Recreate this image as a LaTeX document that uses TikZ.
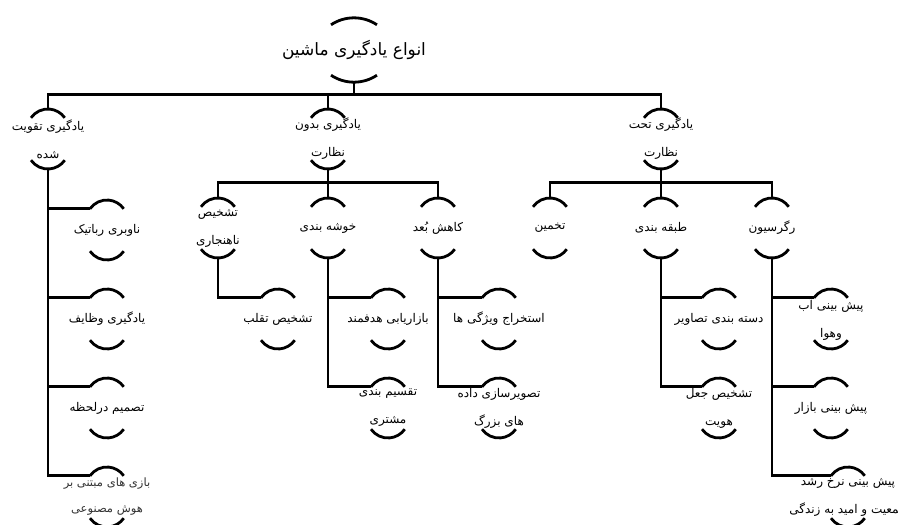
\documentclass[tikz,border=0pt]{standalone}
\usepackage{fontspec}
\newfontfamily\arabicfont[Script=Arabic]{DejaVu Sans}
\TeXXeTstate=1
\usepackage{tikz}
\usetikzlibrary{positioning}
\newcommand{\fatext}[1]{\beginR#1\endR}

\tikzset{
  link/.style = {line width=2.8pt},
  inlet/.style = {shift={(-17pt,-10pt)}},
  arcbox/.style = {minimum height=62pt, inner sep=0pt, align=center,
    font=\arabicfont\fontsize{12}{28}\selectfont,
    append after command={\pgfextra{
      \draw[link] ([shift={(-17pt,-10pt)}]\tikzlastnode.north) arc[start angle=145, end angle=35, radius=20.6pt];
      \draw[link] ([shift={(-17pt,10pt)}]\tikzlastnode.south) arc[start angle=215, end angle=325, radius=20.6pt];}}},
  rootbox/.style = {minimum height=64pt, inner sep=0pt,
    font=\arabicfont\fontsize{17}{24}\selectfont,
    append after command={\pgfextra{
      \draw[link] ([shift={(-23pt,-7pt)}]\tikzlastnode.north) arc[start angle=123.8, end angle=56.2, radius=41.3pt];
      \draw[link] ([shift={(-23pt,7pt)}]\tikzlastnode.south) arc[start angle=236.2, end angle=303.8, radius=41.3pt];}}}
}

\begin{document}
\begin{tikzpicture}[x=1pt, y=-1pt, node distance=89pt]
  \useasboundingbox (0,0) rectangle (898,525);

  % root and the three kinds of learning
  \node[rootbox] (root) at (354,50) {\fatext{انواع یادگیری ماشین}};
  \node[arcbox] (rein) at (48,139) {\fatext{یادگیری تقویت}\\\fatext{شده}};
  \node[arcbox] (unsup) at (328,139) {\fatext{یادگیری بدون}\\\fatext{نظارت}};
  \node[arcbox] (sup) at (661,139) {\fatext{یادگیری تحت}\\\fatext{نظارت}};
  \draw[link] (rein.north) -- ++(0,13pt) coordinate (bus) -| (sup.north);
  \draw[link] (root.south) -- (root.south |- bus);
  \draw[link] (unsup.north) -- (unsup.north |- bus);

  % reinforcement
  \node[arcbox] (robot) at (107,230) {\fatext{ناوبری رباتیک}};
  \node[arcbox] (task) [below of=robot] {\fatext{یادگیری وظایف}};
  \node[arcbox] (decide) [below of=task] {\fatext{تصمیم درلحظه}};
  \node[arcbox, font=\arabicfont\fontsize{11.5}{26}\selectfont, text=black!80] (game) [below of=decide] {\fatext{بازی های مبتنی بر}\\\fatext{هوش مصنوعی}};
  \draw[link] (rein.south) |- ([inlet]robot.north);
  \draw[link] (rein.south) |- ([inlet]task.north);
  \draw[link] (rein.south) |- ([inlet]decide.north);
  \draw[link] (rein.south) |- ([inlet]game.north);

  % unsupervised
  \node[arcbox] (clus) [below of=unsup] {\fatext{خوشه بندی}};
  \node[arcbox] (anom) at (218,228) {\fatext{تشخیص}\\\fatext{ناهنجاری}};
  \node[arcbox] (dim) at (438,228) {\fatext{کاهش بُعد}};
  \draw[link] (unsup.south) -- (clus.north);
  \draw[link] (anom.north) -- ++(0,14pt) -| (dim.north);

  \node[arcbox] (fraud) at (278,319) {\fatext{تشخیص تقلب}};
  \node[arcbox] (market) at (388,319) {\fatext{بازاریابی هدفمند}};
  \node[arcbox] (segment) [below of=market] {\fatext{تقسیم بندی}\\\fatext{مشتری}};
  \node[arcbox] (feature) at (499,319) {\fatext{استخراج ویژگی ها}};
  \node[arcbox] (bigdata) [below of=feature] {\fatext{تصویرسازی داده}\\\fatext{های بزرگ}};
  \draw[link] (anom.south) |- ([inlet]fraud.north);
  \draw[link] (clus.south) |- ([inlet]market.north);
  \draw[link] (clus.south) |- ([inlet]segment.north);
  \draw[link] (dim.south) |- ([inlet]feature.north);
  \draw[link] (dim.south) |- ([inlet]bigdata.north);

  % supervised
  \node[arcbox] (cls) [below of=sup] {\fatext{طبقه بندی}};
  \node[arcbox] (est) at (550,228) {\fatext{تخمین}};
  \node[arcbox] (reg) at (772,228) {\fatext{رگرسیون}};
  \draw[link] (sup.south) -- (cls.north);
  \draw[link] (est.north) -- ++(0,14pt) -| (reg.north);

  \node[arcbox] (image) at (719,319) {\fatext{دسته بندی تصاویر}};
  \node[arcbox] (ident) [below of=image] {\fatext{تشخیص جعل}\\\fatext{هویت}};
  \node[arcbox] (weather) at (831,319) {\fatext{پیش بینی آب}\\\fatext{وهوا}};
  \node[arcbox] (stock) [below of=weather] {\fatext{پیش بینی بازار}};
  \node[arcbox] (growth) [below of=stock, xshift=17pt] {\fatext{پیش بینی نرخ رشد}\\\fatext{جمعیت و امید به زندگی}};
  \draw[link] (cls.south) |- ([inlet]image.north);
  \draw[link] (cls.south) |- ([inlet]ident.north);
  \draw[link] (reg.south) |- ([inlet]weather.north);
  \draw[link] (reg.south) |- ([inlet]stock.north);
  \draw[link] (reg.south) |- ([inlet]growth.north);
\end{tikzpicture}
\end{document}
